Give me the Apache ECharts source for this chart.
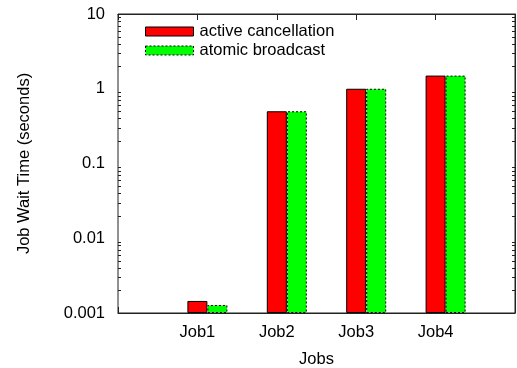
<!DOCTYPE html>
<html>
<head>
<meta charset="utf-8">
<script src="https://cdn.jsdelivr.net/npm/echarts@6/dist/echarts.min.js"></script>
<style>
  html, body { margin: 0; padding: 0; background: #fff; }
  #chart { width: 517px; height: 368px; }
</style>
</head>
<body>
<div id="chart"></div>
<script>
// Job wait times (seconds), log scale
const jobs = ['Job1', 'Job2', 'Job3', 'Job4'];
const activeCancellation = [0.00145, 0.5, 1.0, 1.5];
const atomicBroadcast = [0.00128, 0.5, 1.0, 1.5];
const yTickLabels = ['0.001', '0.01', '0.1', '1', '10'];

const FONT = '"Liberation Sans", Arial, sans-serif';
const AXIS_COLOR = '#222';
const FS = 16.5;

// pad one empty slot on each side so the jobs sit at 1..4 of a 0..5 range
const xCategories = [''].concat(jobs, ['']);
const pad = arr => [null].concat(arr, [null]);

// log-scale minor tick values (2..9 per decade)
const minorTickValues = [];
for (let e = -3; e < 1; e++) {
  for (let k = 2; k <= 9; k++) minorTickValues.push([0, k * Math.pow(10, e)]);
}

const chart = echarts.init(document.getElementById('chart'), null, { renderer: 'canvas' });

const labelFmt = v => {
  const e = Math.round(Math.log10(v));
  return yTickLabels[e + 3] || '';
};

chart.setOption({
  animation: false,
  textStyle: { fontFamily: FONT },
  grid: {
    left: 118, right: 2, top: 14, bottom: 55,
    outerBoundsMode: 'none',
    containLabel: false,
    show: true, borderColor: AXIS_COLOR, borderWidth: 1, backgroundColor: 'transparent'
  },
  legend: {
    orient: 'vertical',
    left: 140, top: 18,
    icon: 'rect',
    itemWidth: 48, itemHeight: 9, itemGap: 2,
    textStyle: { fontSize: FS, color: '#000', fontFamily: FONT, padding: [0, 0, 0, 1] },
    data: [
      { name: 'active cancellation', itemStyle: { color: '#ff0000', borderColor: '#000', borderWidth: 1, borderType: 'solid' } },
      { name: 'atomic broadcast', itemStyle: { color: '#00ff00', borderColor: '#000', borderWidth: 1, borderType: [2, 2] } }
    ]
  },
  xAxis: [
    {
      type: 'category',
      data: xCategories,
      boundaryGap: false,
      name: 'Jobs',
      nameLocation: 'middle',
      nameGap: 38,
      nameTextStyle: { fontSize: FS, color: '#000', fontFamily: FONT },
      axisLine: { lineStyle: { color: AXIS_COLOR, width: 1 } },
      axisTick: { inside: true, length: 6, lineStyle: { color: AXIS_COLOR } },
      axisLabel: { fontSize: FS, color: '#000', margin: 11, fontFamily: FONT },
      splitLine: { show: false }
    },
    {
      type: 'category',
      position: 'top',
      data: xCategories,
      boundaryGap: false,
      axisLine: { lineStyle: { color: AXIS_COLOR, width: 1 } },
      axisTick: { inside: true, length: 6, lineStyle: { color: AXIS_COLOR } },
      axisLabel: { show: false },
      splitLine: { show: false }
    }
  ],
  yAxis: [
    {
      type: 'log',
      logBase: 10,
      min: 0.001,
      max: 10,
      startValue: 0.001,
      name: 'Job Wait Time (seconds)',
      nameLocation: 'middle',
      nameGap: 85,
      nameTextStyle: { fontSize: FS, color: '#000', fontFamily: FONT },
      axisLine: { lineStyle: { color: AXIS_COLOR, width: 1 } },
      axisTick: { inside: true, length: 6, lineStyle: { color: AXIS_COLOR } },
      axisLabel: { fontSize: FS, color: '#000', margin: 13, formatter: labelFmt, fontFamily: FONT },
      splitLine: { show: false }
    },
    {
      type: 'log',
      logBase: 10,
      min: 0.001,
      max: 10,
      position: 'right',
      axisLine: { show: true, lineStyle: { color: AXIS_COLOR, width: 1 } },
      axisTick: { inside: true, length: 6, lineStyle: { color: AXIS_COLOR } },
      axisLabel: { show: false },
      splitLine: { show: false }
    }
  ],
  series: [
    {
      // empty leading column so the red bar is centred on each tick
      type: 'bar',
      name: 'spacer',
      barWidth: 20,
      barGap: '0%',
      data: pad(jobs.map(() => null)),
      silent: true
    },
    {
      type: 'bar',
      name: 'active cancellation',
      barWidth: 20,
      barGap: '0%',
      data: pad(activeCancellation),
      itemStyle: { color: '#ff0000', borderColor: '#000', borderWidth: 1, borderType: 'solid' }
    },
    {
      type: 'bar',
      name: 'atomic broadcast',
      barWidth: 20,
      barGap: '0%',
      data: pad(atomicBroadcast),
      itemStyle: { color: '#00ff00', borderColor: '#000', borderWidth: 1, borderType: [2, 2] }
    },
    {
      // minor ticks on both vertical sides of the frame
      type: 'custom',
      silent: true,
      data: minorTickValues,
      z: 1,
      renderItem: (params, api) => {
        const cs = params.coordSys;
        const y = Math.round(api.coord([0, api.value(1)])[1]) + 0.5;
        const style = { stroke: AXIS_COLOR, lineWidth: 1 };
        return {
          type: 'group',
          children: [
            { type: 'line', shape: { x1: cs.x, y1: y, x2: cs.x + 3, y2: y }, style },
            { type: 'line', shape: { x1: cs.x + cs.width - 3, y1: y, x2: cs.x + cs.width, y2: y }, style }
          ]
        };
      }
    }
  ]
});
</script>
</body>
</html>
